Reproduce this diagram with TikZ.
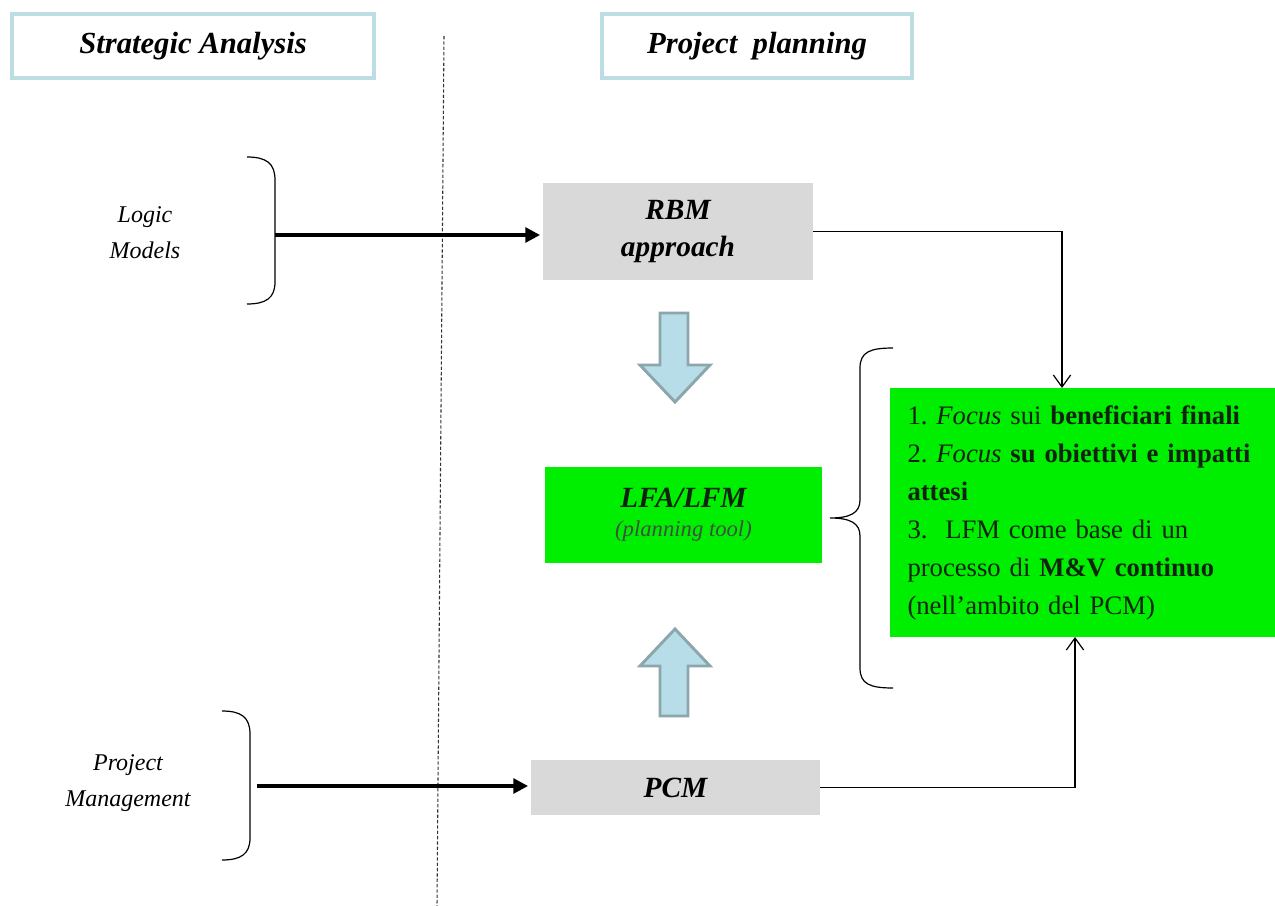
\documentclass[tikz,border=0pt]{standalone}
\usepackage{fontspec}
\setmainfont{Liberation Serif}
\usetikzlibrary{arrows.meta}
\definecolor{hdrline}{RGB}{188,222,226}
\definecolor{boxgray}{RGB}{217,217,217}
\definecolor{boxgreen}{RGB}{0,238,0}
\definecolor{blockfill}{RGB}{183,221,232}
\definecolor{blockline}{RGB}{140,166,172}
\definecolor{greentext}{RGB}{14,36,14}
\frenchspacing
\tikzset{
  pxsize/.style 2 args={minimum width=#1*0.75pt, minimum height=#2*0.75pt, inner sep=0pt},
  header/.style={draw=hdrline, line width=3pt, fill=white, align=center,
    font=\fontsize{23}{26}\selectfont\bfseries\itshape},
  graybox/.style={fill=boxgray, align=center,
    font=\fontsize{22}{28}\selectfont\bfseries\itshape},
  greenbox/.style={fill=boxgreen, text=greentext},
  sidelabel/.style={align=center, font=\fontsize{18}{27}\selectfont\itshape},
  bracket/.style={line width=0.9pt},
  thickarrow/.style={line width=2.6pt, -{Triangle[length=11pt,width=11pt]}},
  thinarrow/.style={line width=0.9pt, -{Straight Barb[length=9pt,width=13pt,line width=0.9pt]}},
  blockarrow/.style={fill=blockfill, draw=blockline, line width=2.2pt, line join=miter},
  divider/.style={line width=0.8pt, dash pattern=on 2.5pt off 1.5pt, black!80}
}
\begin{document}
\begin{tikzpicture}[x=0.75pt, y=-0.75pt]
\useasboundingbox (0,0) rectangle (1275,906);

% column divider
\draw[divider] (444,36) -- (437,906);

% column headers
\node[header, pxsize={362}{64}] (hdrA) at (193,46) {Strategic Analysis};
\node[header, pxsize={310}{64}] (hdrB) at (757,46) {Project\ \ planning};

% left-hand labels and their brackets
\node[sidelabel] (logic) at (145,233) {Logic\\Models};
\node[sidelabel] (pmgmt) at (128,783) {Project\\Management};
\draw[bracket] (247,157) .. controls (266,157) and (275,163) .. (275,180)
   -- (275,282) .. controls (275,298) and (266,304) .. (247,304);
\draw[bracket] (222,711) .. controls (241,711) and (250,717) .. (250,734)
   -- (250,838) .. controls (250,854) and (241,860) .. (222,860);
\coordinate (lm) at (275,235);
\coordinate (pm) at (257,786);

% planning boxes
\node[graybox, pxsize={270}{97}] (rbm) at (678,231.5) {RBM\\approach};
\node[greenbox, pxsize={277}{96}, align=center] (lfa) at (683.5,515)
  {{\fontsize{22}{24}\selectfont\bfseries\itshape LFA/LFM}\\[9pt]
   {\fontsize{17}{20}\selectfont\itshape\color{greentext!80!white}(planning tool)}};
\node[graybox, pxsize={289}{55}] (pcm) at (675.5,787.5) {PCM};

% summary box
\node[greenbox, pxsize={385}{249}, align=left, text width=350*0.75pt,
      font=\fontsize{20}{28.5}\selectfont] (focus) at (1082.5,512.5)
  {\hyphenpenalty=10000
   1. \textit{Focus} sui \textbf{beneficiari finali}\\
   2. \textit{Focus} \textbf{su obiettivi e impatti}\\
   \textbf{attesi}\\
   3.\ \ LFM come base di un\\
   processo di \textbf{M\&V continuo}\\
   (nell’ambito del PCM)};

% curly brace grouping the summary
\draw[bracket] (893,348) .. controls (870,348) and (860,352) .. (860,368)
   -- (860,500) .. controls (860,513) and (850,518) .. (830,518)
   .. controls (850,518) and (860,523) .. (860,536)
   -- (860,668) .. controls (860,684) and (870,688) .. (893,688);

% block arrows towards the planning tool
\draw[blockarrow] (660,313) -- (688,313) -- (688,365) -- (710,365) -- (675,402)
   -- (640,365) -- (660,365) -- cycle;
\draw[blockarrow] (660,716) -- (688,716) -- (688,666) -- (710,666) -- (675,629)
   -- (640,666) -- (660,666) -- cycle;

% connectors
\draw[thickarrow, shorten >=2pt] (lm) -- (lm -| rbm.west);
\draw[thickarrow, shorten >=2pt] (pm) -- (pm -| pcm.west);
\coordinate (inTop) at (1062,388);
\coordinate (inBot) at (1075,637);
\draw[thinarrow] (rbm.east) -| (inTop);
\draw[thinarrow] (pcm.east) -| (inBot);
\end{tikzpicture}
\end{document}
